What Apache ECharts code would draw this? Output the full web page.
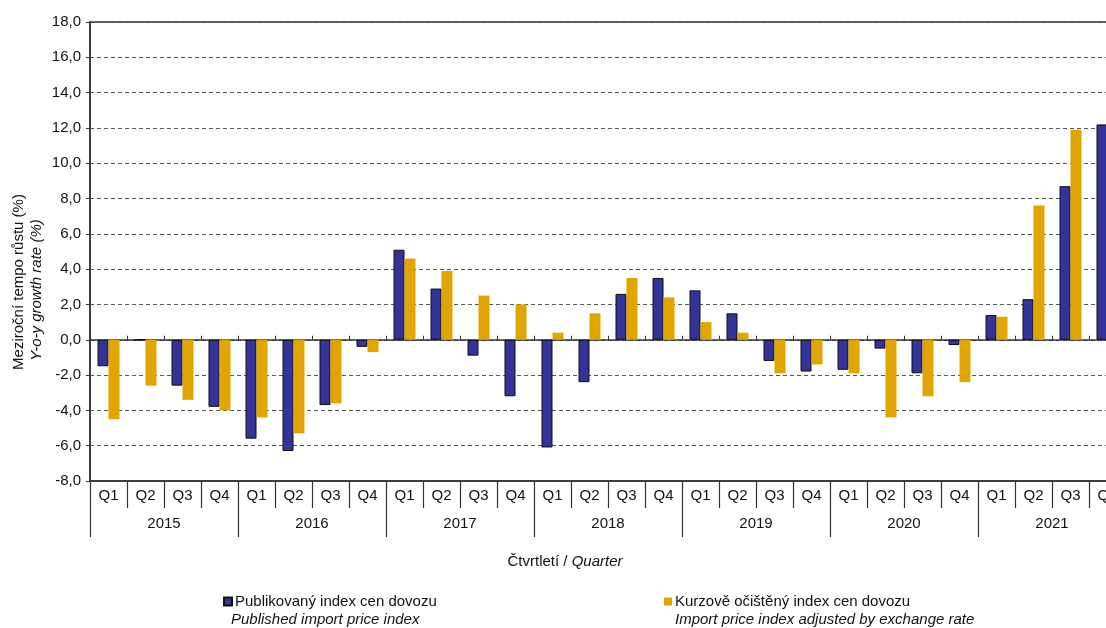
<!DOCTYPE html>
<html>
<head>
<meta charset="utf-8">
<script src="https://cdn.jsdelivr.net/npm/echarts@6/dist/echarts.min.js"></script>
<style>
html,body{margin:0;padding:0;background:#fff;}
#chart{width:1106px;height:628px;}
</style>
</head>
<body>
<div id="chart"></div>
<script>
const quarters = ['Q1','Q2','Q3','Q4','Q1','Q2','Q3','Q4','Q1','Q2','Q3','Q4','Q1','Q2','Q3','Q4','Q1','Q2','Q3','Q4','Q1','Q2','Q3','Q4','Q1','Q2','Q3','Q4'];
const years = ['2015','2016','2017','2018','2019','2020','2021'];
const published = [-1.5,0.0,-2.6,-3.8, -5.6,-6.3,-3.7,-0.4, 5.1,2.9,-0.9,-3.2, -6.1,-2.4,2.6,3.5, 2.8,1.5,-1.2,-1.8, -1.7,-0.5,-1.9,-0.3, 1.4,2.3,8.7,12.2];
const adjusted  = [-4.5,-2.6,-3.4,-4.0, -4.4,-5.3,-3.6,-0.7, 4.6,3.9,2.5,2.0, 0.4,1.5,3.5,2.4, 1.0,0.4,-1.9,-1.4, -1.9,-4.4,-3.2,-2.4, 1.3,7.6,11.9,15.8];
const seriesNames = ['Publikovaný index cen dovozu','Kurzově očištěný index cen dovozu'];
const seriesNamesEn = ['Published import price index','Import price index adjusted by exchange rate'];
const yTitle = ['Meziroční tempo růstu (%)','Y-o-y growth rate (%)'];
const xTitle = ['Čtvrtletí / ','Quarter'];

const FONT = 'Liberation Sans, Arial, sans-serif';
const AX = '#333';
const chart = echarts.init(document.getElementById('chart'), null, {renderer:'canvas'});
chart.setOption({
  animation:false,
  textStyle:{fontFamily:FONT},
  grid:{left:90, top:22, width:1036, height:459, outerBoundsMode:'none', containLabel:false,
        show:true, borderColor:AX, borderWidth:1.5, backgroundColor:'transparent'},
  xAxis:[
    {type:'category', data:quarters, position:'bottom', axisLine:{show:true,onZero:true, lineStyle:{color:AX,width:1.5}},
     axisTick:{show:true,inside:true,length:4,interval:0,lineStyle:{color:AX,width:1}}, axisLabel:{show:false}, splitLine:{show:false}},
    {type:'category', data:quarters, position:'bottom', axisLine:{show:true,onZero:false, lineStyle:{color:AX,width:1.5}},
     axisTick:{show:true,length:27,interval:0,lineStyle:{color:AX,width:1.2}}, axisLabel:{color:'#111',fontSize:15,margin:7,interval:0,fontFamily:FONT}, splitLine:{show:false}},
    {type:'category', data:years, position:'bottom', offset:27, axisLine:{show:false, onZero:false},
     axisTick:{show:true,length:29,interval:0,lineStyle:{color:AX,width:1.2}}, axisLabel:{color:'#111',fontSize:15,margin:8,interval:0,fontFamily:FONT}}
  ],
  yAxis:{type:'value', min:-8, max:18, interval:2,
    axisLine:{show:true,lineStyle:{color:AX,width:1.5}}, axisTick:{show:true,length:4,lineStyle:{color:AX}},
    axisLabel:{color:'#111',fontSize:15,margin:9,fontFamily:FONT, formatter:v=>v.toFixed(1).replace('.',',')},
    splitLine:{lineStyle:{color:'#555',type:[4,3],width:1}}},
  legend:[
    {data:[{name:seriesNames[0],icon:'rect'}], left:218, top:589, itemWidth:8, itemHeight:8, itemGap:4, textStyle:{fontSize:15,color:'#111',fontFamily:FONT,padding:[0,0,0,-2]}},
    {data:[{name:seriesNames[1],icon:'rect'}], left:659, top:589, itemWidth:8, itemHeight:8, itemGap:4, textStyle:{fontSize:15,color:'#111',fontFamily:FONT,padding:[0,0,0,-2]}}
  ],
  graphic:[
    {type:'text', x:231, y:620, style:{text:seriesNamesEn[0], font:'italic 15px '+FONT, fill:'#111', verticalAlign:'middle'}},
    {type:'text', x:675, y:620, style:{text:seriesNamesEn[1], font:'italic 15px '+FONT, fill:'#111', verticalAlign:'middle'}},
    {type:'text', x:565, y:562, style:{text:'{n|'+xTitle[0]+'}{i|'+xTitle[1]+'}', align:'center', verticalAlign:'middle',
      rich:{n:{font:'15px '+FONT, fill:'#111'}, i:{font:'italic 15px '+FONT, fill:'#111'}}}},
    {type:'text', x:19, y:282, rotation:Math.PI/2, style:{text:yTitle[0], font:'15px '+FONT, fill:'#111', align:'center', verticalAlign:'middle'}},
    {type:'text', x:37, y:290, rotation:Math.PI/2, style:{text:yTitle[1], font:'italic 15px '+FONT, fill:'#111', align:'center', verticalAlign:'middle'}}
  ],
  series:[
    {name:seriesNames[0], type:'bar', xAxisIndex:0, data:published, barWidth:11, barGap:'0%',
     itemStyle:{color:'#333399', borderColor:'#111', borderWidth:1}},
    {name:seriesNames[1], type:'bar', xAxisIndex:0, data:adjusted, barWidth:11, barGap:'0%',
     itemStyle:{color:'#E0A500'}}
  ]
});
</script>
</body>
</html>
